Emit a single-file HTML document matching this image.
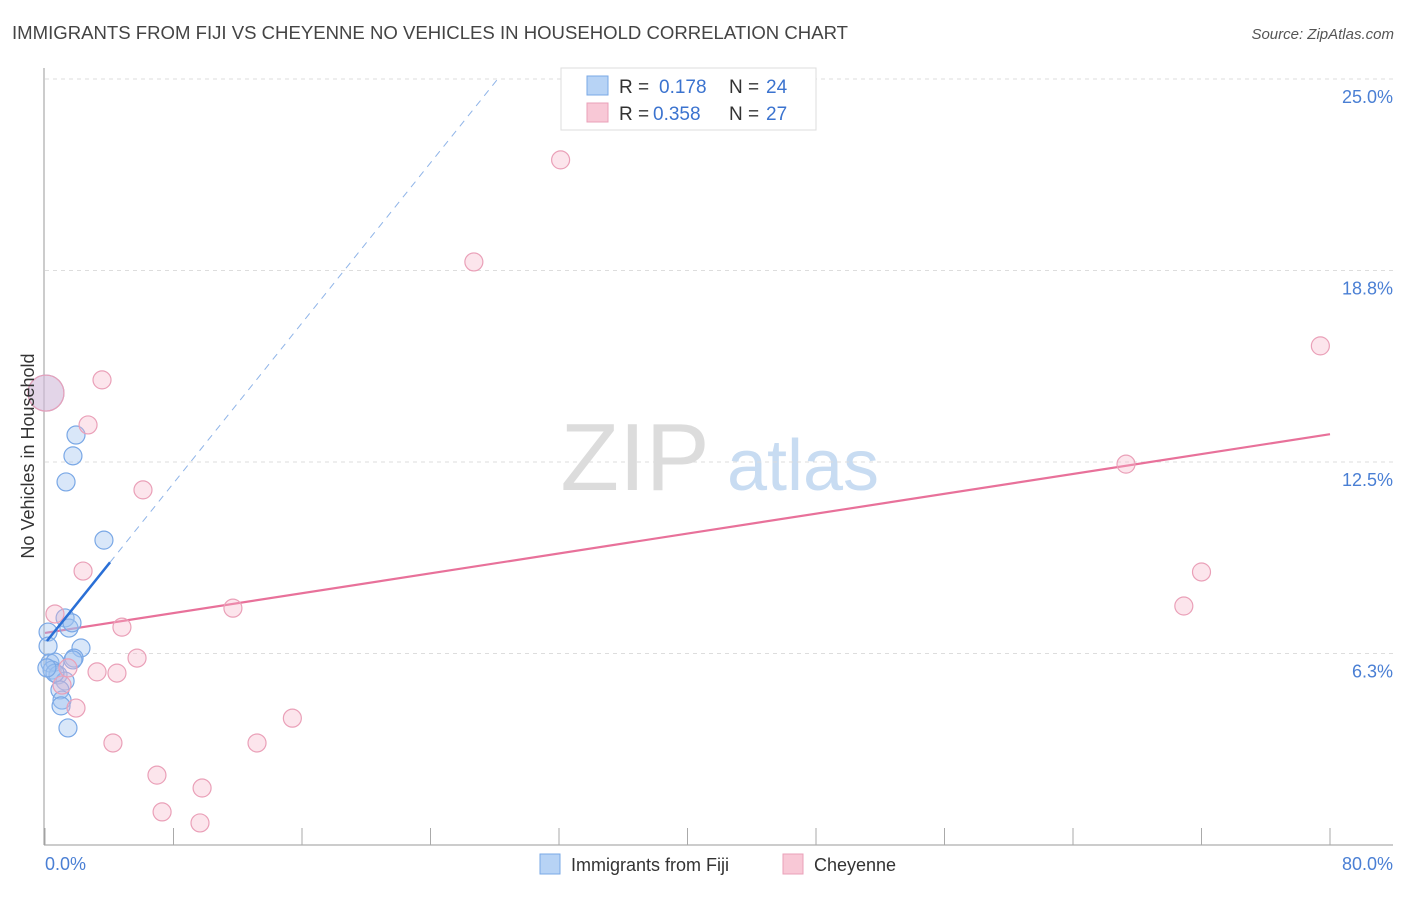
<!DOCTYPE html>
<html><head><meta charset="utf-8"><style>
body{margin:0;background:#fff;font-family:"Liberation Sans",sans-serif}
svg text{font-family:"Liberation Sans",sans-serif}
</style></head><body>
<svg id="chart" width="1406" height="892" viewBox="0 0 1406 892">
<text x="12" y="39" font-size="18" fill="#444" textLength="836" lengthAdjust="spacingAndGlyphs">IMMIGRANTS FROM FIJI VS CHEYENNE NO VEHICLES IN HOUSEHOLD CORRELATION CHART</text>
<text x="1394" y="39" font-size="15" fill="#555" font-style="italic" text-anchor="end">Source: ZipAtlas.com</text>
<g>
<text x="635" y="490" font-size="96" fill="#dcdcdc" font-family="Liberation Serif" text-anchor="middle">ZIP</text>
<text x="803" y="490" font-size="72" fill="#c8dcf2" text-anchor="middle">atlas</text>
</g>
<g id="grid"></g><g id="axes"></g><g id="lines"></g><g id="points"></g>
<text transform="translate(34,456) rotate(-90)" font-size="18" fill="#333" text-anchor="middle">No Vehicles in Household</text>
<text x="45" y="870" font-size="18" fill="#4a7fd4">0.0%</text>
<text x="1393" y="870" font-size="18" fill="#4a7fd4" text-anchor="end">80.0%</text>
<g>
<rect x="561" y="68" width="255" height="62" fill="#fff" stroke="#ddd"/>
<rect x="587" y="76" width="21" height="19" fill="#b7d3f5" stroke="#7aa8e6"/>
<rect x="587" y="103" width="21" height="19" fill="#f8c8d6" stroke="#eaa0b8"/>
<text x="619" y="93" font-size="19" fill="#333">R = </text><text x="659" y="93" font-size="19" fill="#3b73cf">0.178</text>
<text x="729" y="93" font-size="19" fill="#333">N = </text><text x="766" y="93" font-size="19" fill="#3b73cf">24</text>
<text x="619" y="120" font-size="19" fill="#333">R = </text><text x="653" y="120" font-size="19" fill="#3b73cf">0.358</text>
<text x="729" y="120" font-size="19" fill="#333">N = </text><text x="766" y="120" font-size="19" fill="#3b73cf">27</text>
</g>
<g>
<rect x="540" y="854" width="20" height="20" fill="#b7d3f5" stroke="#7aa8e6"/>
<text x="571" y="871" font-size="18" fill="#333">Immigrants from Fiji</text>
<rect x="783" y="854" width="20" height="20" fill="#f8c8d6" stroke="#eaa0b8"/>
<text x="814" y="871" font-size="18" fill="#333">Cheyenne</text>
</g>
</svg>
<script>
const yTicks=[6.25,12.5,18.75,25];
const yTickLabels=["6.3%","12.5%","18.8%","25.0%"];
const xTicks=[0,8,16,24,32,40,48,56,64,72,80];
const fijiX=[0.06,1.93,1.74,1.31,3.67,0.19,1.25,1.49,1.68,2.24,1.81,0.31,0.62,0.44,0.81,1.25,0.93,1.06,1.0,1.43,0.19,0.62,1.74,0.12];
const fijiY=[14.75,13.38,12.70,11.85,9.95,6.95,7.41,7.08,7.25,6.43,6.10,5.94,5.97,5.71,5.55,5.35,5.06,4.73,4.54,3.82,6.49,5.61,6.04,5.78];
const fijiBig=[1,0,0,0,0,0,0,0,0,0,0,0,0,0,0,0,0,0,0,0,0,0,0,0];
const cheyX=[0.06,3.55,2.68,6.1,32.1,26.7,79.4,67.3,72.0,70.9,2.37,0.62,4.79,11.7,5.73,3.24,4.48,1.43,1.06,1.93,4.23,13.2,15.4,6.97,9.78,7.29,9.65];
const cheyY=[14.75,15.18,13.71,11.59,22.36,19.03,16.29,12.43,8.91,7.80,8.94,7.54,7.11,7.73,6.10,5.65,5.61,5.78,5.22,4.47,3.33,3.33,4.14,2.28,1.86,1.08,0.72];
const cheyBig=[1,0,0,0,0,0,0,0,0,0,0,0,0,0,0,0,0,0,0,0,0,0,0,0,0,0,0];
const fijiTrend=[6.58,0.6535];
const cheyTrend=[6.92,0.0811];
const fijiSolidEnd=4.05;
const NS='http://www.w3.org/2000/svg';
const X=v=>45+v*16.0625, Y=v=>845-v*30.64;
function mk(t,a,p){const e=document.createElementNS(NS,t);for(const k in a)e.setAttribute(k,a[k]);p.appendChild(e);return e;}
const grid=document.getElementById('grid'),axes=document.getElementById('axes'),lines=document.getElementById('lines'),pts=document.getElementById('points');
yTicks.forEach((t,i)=>{
 const l=mk('line',{x1:45,x2:1393,y1:Y(t),y2:Y(t),stroke:'#ddd','stroke-dasharray':'4,4'},grid);
 
 
 const tx=mk('text',{x:1393,y:Y(t)+24,'font-size':18,fill:'#4a7fd4','text-anchor':'end'},grid);
 tx.textContent=yTickLabels[i];
 
 
});
const ya=mk('line',{x1:44,x2:44,y1:68,y2:845,stroke:'#999'},axes);


const xa=mk('line',{x1:44,x2:1393,y1:845,y2:845,stroke:'#999'},axes);


xTicks.forEach(t=>{
 const l=mk('line',{x1:X(t),x2:X(t),y1:828,y2:845,stroke:'#aaa'},axes);
 
 
});
const fy=x=>fijiTrend[0]+fijiTrend[1]*x;
const dashEnd=(25-fijiTrend[0])/fijiTrend[1];
const fd=mk('line',{x1:X(fijiSolidEnd),y1:Y(fy(fijiSolidEnd)),x2:X(dashEnd),y2:Y(fy(dashEnd)),stroke:'#8fb4e8','stroke-width':1,'stroke-dasharray':'7,6'},lines);


const cy=x=>cheyTrend[0]+cheyTrend[1]*x;
const ct=mk('line',{x1:X(0),y1:Y(cy(0)),x2:X(80),y2:Y(cy(80)),stroke:'#e8719a','stroke-width':2.2},lines);


fijiX.forEach((x,i)=>{
 const c=mk('circle',{cx:X(x),cy:Y(fijiY[i]),r:fijiBig[i]?18:9,fill:'rgba(160,196,240,0.4)',stroke:'#7aa8e6','stroke-width':1.2},pts);
 
 
});
cheyX.forEach((x,i)=>{
 const c=mk('circle',{cx:X(x),cy:Y(cheyY[i]),r:cheyBig[i]?18:9,fill:'rgba(245,180,200,0.35)',stroke:'#eaa0b8','stroke-width':1.2},pts);
 
 
});
const fs=mk('line',{x1:X(0.12),y1:Y(fy(0.12)),x2:X(fijiSolidEnd),y2:Y(fy(fijiSolidEnd)),stroke:'#2a6fd6','stroke-width':2.5},pts);


</script>
</body></html>
